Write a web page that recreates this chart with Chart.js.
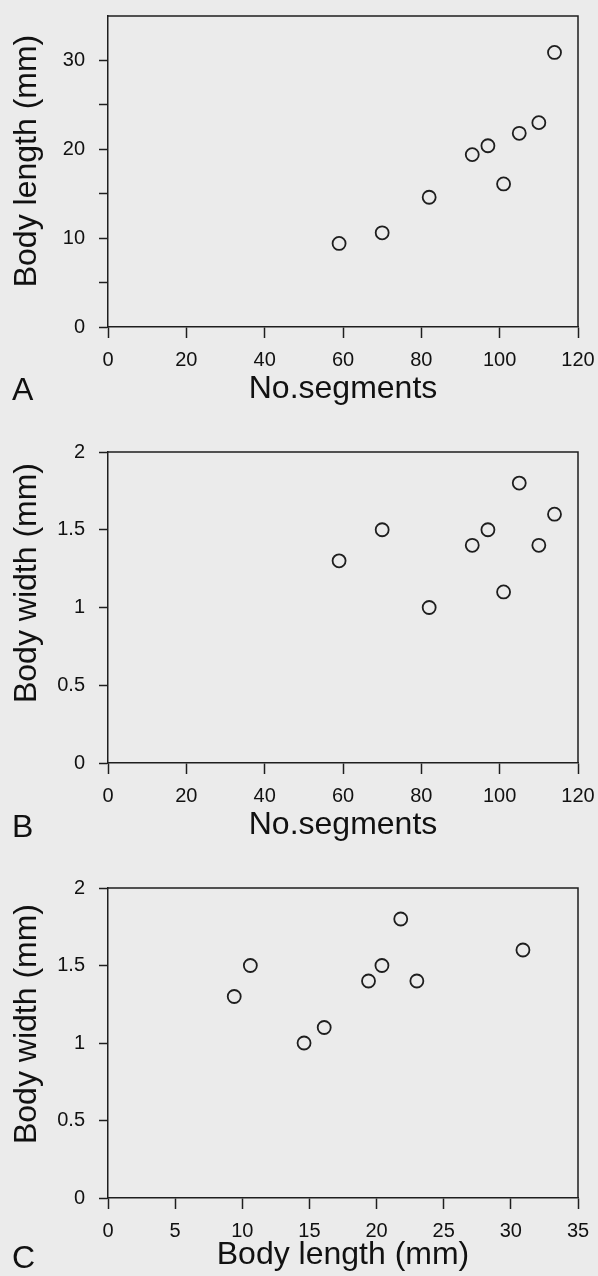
<!DOCTYPE html>
<html>
<head>
<meta charset="utf-8">
<script src="https://cdn.jsdelivr.net/npm/chart.js@4.4.1/dist/chart.umd.min.js"></script>
<style>
  html, body { margin: 0; padding: 0; background: #ebebeb; overflow: hidden; }
  .panel { position: absolute; left: 0; }
  canvas { display: block; }
</style>
</head>
<body>
<div class="panel" style="top:0"><canvas id="chartA" width="598" height="436"></canvas></div>
<div class="panel" style="top:436px"><canvas id="chartB" width="598" height="436"></canvas></div>
<div class="panel" style="top:872px"><canvas id="chartC" width="598" height="404"></canvas></div>
<script>
// 各個体の計測値
const segments   = [59, 70, 82, 93, 97, 101, 105, 110, 114];
const bodyLength = [9.4, 10.6, 14.6, 19.4, 20.4, 16.1, 21.8, 23.0, 30.9];
const bodyWidth  = [1.3, 1.5, 1.0, 1.4, 1.5, 1.1, 1.8, 1.4, 1.6];

const segmentTicks = [0, 20, 40, 60, 80, 100, 120];
const lengthTicks  = [0, 5, 10, 15, 20, 25, 30, 35];
const widthTicks   = [0, 0.5, 1, 1.5, 2];
const lengthLabels = [0, 10, 20, 30];

const axisColor = '#1e1e1e';
const textColor = '#111';
const fontFamily = '"Liberation Sans", Arial, sans-serif';

// 枠の上辺・右辺、パネル記号、縦軸タイトルを描くプラグイン
const panelDecor = {
    id: 'panelDecor',
    afterDraw(chart, args, opts) {
        const { ctx, chartArea } = chart;
        ctx.save();
        ctx.strokeStyle = axisColor;
        ctx.lineWidth = 1.5;
        ctx.beginPath();
        ctx.moveTo(chartArea.left, chartArea.top);
        ctx.lineTo(chartArea.right, chartArea.top);
        ctx.lineTo(chartArea.right, chartArea.bottom);
        ctx.stroke();

        ctx.fillStyle = textColor;
        ctx.font = '32px ' + fontFamily;
        ctx.textAlign = 'left';
        ctx.textBaseline = 'alphabetic';
        ctx.fillText(opts.letter, 12, chartArea.top + opts.letterY);

        ctx.translate(27, chartArea.top + opts.yTitleMid);
        ctx.rotate(-Math.PI / 2);
        ctx.textAlign = 'center';
        ctx.textBaseline = 'middle';
        ctx.fillText(opts.yTitle, 0, 0);
        ctx.restore();
    }
};

function pairs(xs, ys) {
    return xs.map((x, i) => ({ x: x, y: ys[i] }));
}

function makePanel(id, cfg) {
    return new Chart(document.getElementById(id), {
        type: 'scatter',
        data: {
            datasets: [{
                data: pairs(cfg.xs, cfg.ys),
                pointStyle: 'circle',
                pointRadius: 6.5,
                pointBorderWidth: 1.8,
                pointBorderColor: axisColor,
                pointBackgroundColor: 'rgba(0,0,0,0)'
            }]
        },
        plugins: [panelDecor],
        options: {
            responsive: false,
            animation: false,
            layout: { padding: { top: 16, right: 20, bottom: cfg.padBottom, left: 0 } },
            plugins: {
                legend: { display: false },
                tooltip: { enabled: false },
                panelDecor: { letter: cfg.letter, letterY: cfg.letterY, yTitle: cfg.yTitle, yTitleMid: cfg.yTitleMid }
            },
            scales: {
                x: {
                    type: 'linear',
                    min: cfg.xTicks[0],
                    max: cfg.xTicks[cfg.xTicks.length - 1],
                    afterBuildTicks: (scale) => { scale.ticks = cfg.xTicks.map(v => ({ value: v })); },
                    afterFit: (scale) => {
                        scale.height = cfg.xAxisHeight;
                        scale.paddingLeft = 0;
                        scale.paddingRight = 0;
                    },
                    border: { display: true, color: axisColor, width: 1.5 },
                    grid: { drawOnChartArea: false, drawTicks: true, tickLength: 11, tickColor: axisColor, tickWidth: 1.5 },
                    ticks: { color: textColor, padding: 10, font: { family: fontFamily, size: 20 } },
                    title: {
                        display: true,
                        text: cfg.xTitle,
                        color: textColor,
                        padding: { top: 0, bottom: 1 },
                        font: { family: fontFamily, size: 32 }
                    }
                },
                y: {
                    type: 'linear',
                    min: cfg.yTicks[0],
                    max: cfg.yTicks[cfg.yTicks.length - 1],
                    afterBuildTicks: (scale) => { scale.ticks = cfg.yTicks.map(v => ({ value: v })); },
                    afterFit: (scale) => {
                        scale.width = 108;
                        scale.paddingTop = 0;
                        scale.paddingBottom = 0;
                    },
                    border: { display: true, color: axisColor, width: 1.5 },
                    grid: {
                        drawOnChartArea: false,
                        drawTicks: true,
                        tickLength: 9,
                        tickWidth: 1.5,
                        // 35 の位置は目盛りなし
                        tickColor: (c) => (c.tick && cfg.hideTick === c.tick.value) ? 'rgba(0,0,0,0)' : axisColor
                    },
                    ticks: {
                        color: textColor,
                        padding: 14,
                        font: { family: fontFamily, size: 20 },
                        callback: (v) => cfg.yLabels.includes(v) ? String(v) : ''
                    }
                }
            }
        }
    });
}

makePanel('chartA', {
    xs: segments, ys: bodyLength,
    xTicks: segmentTicks, yTicks: lengthTicks, yLabels: lengthLabels, hideTick: 35,
    xTitle: 'No.segments', yTitle: 'Body length (mm)',
    letter: 'A', letterY: 384, yTitleMid: 145,
    xAxisHeight: 82, padBottom: 27
});

makePanel('chartB', {
    xs: segments, ys: bodyWidth,
    xTicks: segmentTicks, yTicks: widthTicks, yLabels: widthTicks, hideTick: null,
    xTitle: 'No.segments', yTitle: 'Body width (mm)',
    letter: 'B', letterY: 385, yTitleMid: 131,
    xAxisHeight: 82, padBottom: 27
});

makePanel('chartC', {
    xs: bodyLength, ys: bodyWidth,
    xTicks: lengthTicks, yTicks: widthTicks, yLabels: widthTicks, hideTick: null,
    xTitle: 'Body length (mm)', yTitle: 'Body width (mm)',
    letter: 'C', letterY: 380, yTitleMid: 136,
    xAxisHeight: 77, padBottom: 1
});
</script>
</body>
</html>
